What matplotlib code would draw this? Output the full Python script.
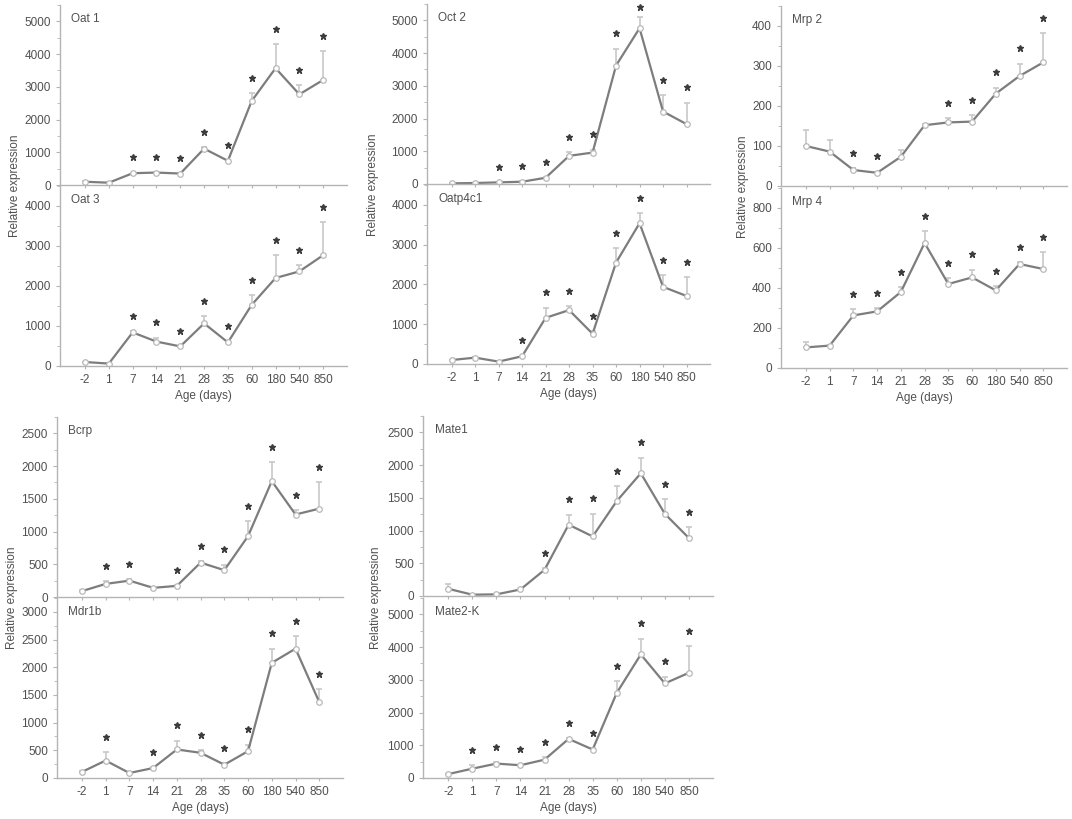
import matplotlib.pyplot as plt
from matplotlib.ticker import AutoMinorLocator

ages = ["-2", "1", "7", "14", "21", "28", "35", "60", "180", "540", "850"]

# valori medi (lettura dal grafico), estremo superiore barra d'errore, stelle
oat1 = [100, 70, 360, 380, 350, 1110, 740, 2570, 3570, 2770, 3210]
oat1_err = [110, 80, 380, 400, 370, 1150, 760, 2800, 4310, 3050, 4100]
oat1_star = ["7", "14", "21", "28", "35", "60", "180", "540", "850"]

oat3 = [100, 60, 840, 610, 490, 1065, 590, 1530, 2200, 2365, 2770]
oat3_err = [110, 70, 880, 710, 500, 1240, 630, 1780, 2770, 2530, 3590]
oat3_star = ["7", "14", "21", "28", "35", "60", "180", "540", "850"]

oct2 = [20, 30, 50, 70, 190, 860, 960, 3620, 4760, 2215, 1830]
oct2_err = [25, 35, 60, 90, 210, 970, 1050, 4140, 5100, 2710, 2490]
oct2_star = ["7", "14", "21", "28", "35", "60", "180", "540", "850"]

oatp4c1 = [100, 160, 60, 195, 1160, 1355, 760, 2550, 3540, 1940, 1710]
oatp4c1_err = [110, 180, 70, 210, 1415, 1460, 825, 2905, 3800, 2240, 2190]
oatp4c1_star = ["14", "21", "28", "35", "60", "180", "540", "850"]

mrp2 = [100, 86, 40, 33, 73, 152, 159, 161, 231, 275, 309]
mrp2_err = [141, 115, 44, 36, 90, 156, 170, 178, 246, 306, 383]
mrp2_star = ["7", "14", "35", "60", "180", "540", "850"]

mrp4 = [103, 112, 263, 283, 380, 625, 420, 453, 388, 520, 495]
mrp4_err = [128, 115, 295, 300, 405, 683, 450, 492, 408, 528, 580]
mrp4_star = ["7", "14", "21", "28", "35", "60", "180", "540", "850"]

bcrp = [90, 200, 250, 140, 170, 525, 410, 930, 1770, 1260, 1350]
bcrp_err = [100, 240, 275, 150, 185, 545, 495, 1160, 2065, 1325, 1760]
bcrp_star = ["1", "7", "21", "28", "35", "60", "180", "540", "850"]

mdr1b = [110, 315, 90, 180, 515, 455, 240, 485, 2080, 2335, 1370]
mdr1b_err = [120, 465, 100, 195, 675, 500, 270, 600, 2335, 2565, 1610]
mdr1b_star = ["1", "14", "21", "28", "35", "60", "180", "540", "850"]

mate1 = [110, 20, 25, 100, 400, 1090, 910, 1450, 1875, 1255, 885]
mate1_err = [185, 25, 30, 110, 425, 1245, 1260, 1680, 2115, 1485, 1055]
mate1_star = ["21", "28", "35", "60", "180", "540", "850"]

mate2k = [120, 285, 440, 390, 560, 1195, 870, 2600, 3775, 2890, 3215]
mate2k_err = [130, 390, 490, 410, 645, 1225, 920, 2960, 4255, 3095, 4030]
mate2k_star = ["1", "7", "14", "21", "28", "35", "60", "180", "540", "850"]

TESTO = "#505050"
ASSI = "#b4b4b4"

plt.rcParams["font.family"] = ["Liberation Sans", "DejaVu Sans"]
plt.rcParams["font.size"] = 8.5

fig = plt.figure(figsize=(10.72, 8.19), dpi=100)
W, H = 1072, 819


def crea_asse(sx, dx, alto, basso):
    """Crea un asse a partire da coordinate in pixel"""
    return fig.add_axes([sx / W, 1 - basso / H, (dx - sx) / W, (basso - alto) / H])


def pannello(ax, nome, valori, errori, stelle, ymax, passo, etichette):
    x = list(range(len(ages)))
    sopra = [e - v for v, e in zip(valori, errori)]
    ax.errorbar(x, valori, yerr=[[0] * len(x), sopra], fmt="none",
                ecolor="#c8c8c8", elinewidth=1.2, capsize=2.5, capthick=1.2, zorder=1)
    ax.plot(x, valori, color="#7d7d7d", lw=1.6, marker="o", ms=4,
            mfc="white", mec="#b8b8b8", mew=0.9, zorder=2)
    xs = [ages.index(a) for a in stelle]
    ys = [min(errori[i] + 0.085 * ymax, 0.985 * ymax) for i in xs]
    ax.plot(xs, ys, ls="none", marker="*", ms=5, color="#3c3c3c", zorder=3, clip_on=False)
    ax.set_xlim(-1.05, 11)
    ax.set_ylim(0, ymax)
    ax.set_yticks(range(0, int(ymax) + 1, passo))
    ax.yaxis.set_minor_locator(AutoMinorLocator(2))
    ax.set_xticks(x)
    if etichette:
        ax.set_xticklabels(ages)
        ax.set_xlabel("Age (days)", color=TESTO, fontsize=8.5, labelpad=3)
    else:
        ax.set_xticklabels([])
    for lato in ["top", "right"]:
        ax.spines[lato].set_visible(False)
    for lato in ["left", "bottom"]:
        ax.spines[lato].set_color(ASSI)
        ax.spines[lato].set_linewidth(1)
    ax.tick_params(which="both", colors=ASSI, labelcolor=TESTO, labelsize=8.5, direction="out")
    ax.tick_params(which="major", length=3)
    ax.tick_params(which="minor", length=2)
    ax.tick_params(axis="x", length=2)
    ax.set_facecolor("none")
    ax.text(0.04, 0.905, nome, transform=ax.transAxes, color=TESTO, fontsize=8.5)


pannello(crea_asse(60, 347, 5, 185), "Oat 1", oat1, oat1_err, oat1_star, 5500, 1000, False)
pannello(crea_asse(60, 347, 186, 366), "Oat 3", oat3, oat3_err, oat3_star, 4500, 1000, True)
pannello(crea_asse(427, 710, 4, 184), "Oct 2", oct2, oct2_err, oct2_star, 5500, 1000, False)
pannello(crea_asse(427, 710, 185, 364), "Oatp4c1", oatp4c1, oatp4c1_err, oatp4c1_star, 4500, 1000, True)
pannello(crea_asse(781, 1067, 6, 186), "Mrp 2", mrp2, mrp2_err, mrp2_star, 450, 100, False)
pannello(crea_asse(781, 1067, 188, 368), "Mrp 4", mrp4, mrp4_err, mrp4_star, 900, 200, True)
pannello(crea_asse(57, 343, 417, 597), "Bcrp", bcrp, bcrp_err, bcrp_star, 2750, 500, False)
pannello(crea_asse(57, 343, 598, 778), "Mdr1b", mdr1b, mdr1b_err, mdr1b_star, 3250, 500, True)
pannello(crea_asse(423, 713, 416, 596), "Mate1", mate1, mate1_err, mate1_star, 2750, 500, False)
pannello(crea_asse(423, 713, 598, 778), "Mate2-K", mate2k, mate2k_err, mate2k_star, 5500, 1000, True)

for xp, yp in [(15, 186), (373, 185), (743, 187), (12, 598), (376, 598)]:
    fig.text(xp / W, 1 - yp / H, "Relative expression", rotation=90,
             ha="center", va="center", color=TESTO, fontsize=8.5)

fig.savefig("out.png", dpi=100)
